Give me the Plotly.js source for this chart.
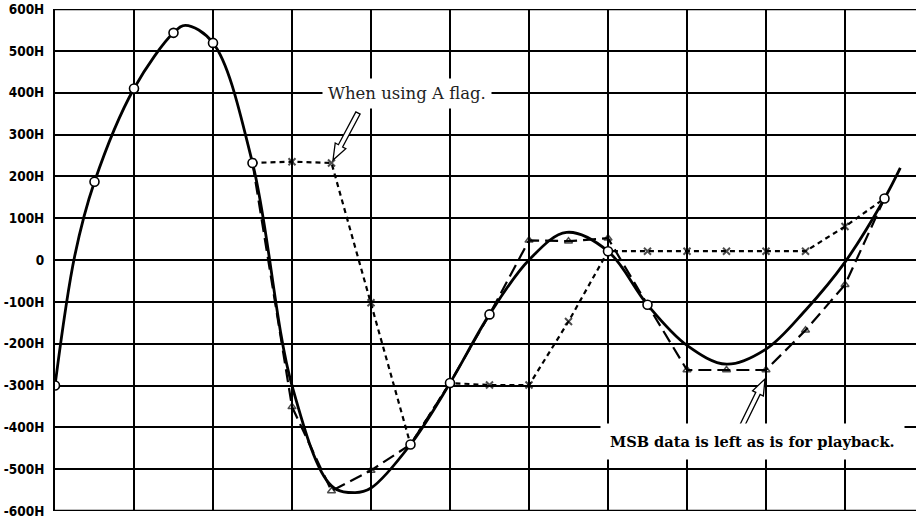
<!DOCTYPE html>
<html>
<head>
<meta charset="utf-8">
<script src="https://cdn.plot.ly/plotly-3.0.1.min.js"></script>
<style>html,body{margin:0;padding:0;background:#fff;}#chart{width:916px;height:519px;}</style>
</head>
<body>
<div id="chart"></div>
<script>
// ---- data (x = sample index, each vertical grid = 2 samples) ----
const curveX = [0, 0.5, 1, 2, 3, 3.3, 4, 5, 6, 7, 7.6, 8, 9, 10, 11, 12, 12.95, 14, 15, 16, 17, 18, 19, 20, 21, 21.4];
const curveY = [-300, 10, 187, 410, 543, 561, 519, 232, -300, -540, -556, -545, -441, -294, -130, 0, 66, 21, -107, -204, -249, -213, -120, -5, 147, 220];

const sampleX = [0, 1, 2, 3, 4, 5, 9, 10, 11, 14, 15, 21];
const sampleY = [-300, 187, 410, 543, 519, 232, -441, -294, -130, 21, -107, 147];

const plainX = [5, 6, 7, 8, 9, 10, 11, 12, 13, 14, 15, 16, 17, 18, 19, 20, 21];
const plainY = [232, -351, -552, -503, -441, -294, -130, 47, 45, 52, -107, -263, -263, -263, -168, -59, 147];
const plainMarked = [6, 7, 8, 12, 13, 14, 16, 17, 18, 19, 20];

const aflagX = [5, 6, 7, 8, 9, 10, 11, 12, 13, 14, 15, 16, 17, 18, 19, 20, 21];
const aflagY = [232, 235, 232, -102, -441, -294, -299, -299, -147, 21, 21, 21, 21, 21, 21, 80, 147];
const aflagMarked = [6, 7, 8, 11, 12, 13, 15, 16, 17, 18, 19, 20];

const yTickVals = [600, 500, 400, 300, 200, 100, 0, -100, -200, -300, -400, -500, -600];
const yTickText = ['600H', '500H', '400H', '300H', '200H', '100H', '0', '-100H', '-200H', '-300H', '-400H', '-500H', '-600H'];

const noteA = 'When using A flag.';
const noteMSB = 'MSB data is left as is for playback.';

// ---- layout geometry ----
const W = 916, H = 519;
const M = {l: 55, r: 0, t: 9, b: 8};
const xMax = (W - M.l - M.r) / 39.5;
const pw = W - M.l - M.r, ph = H - M.t - M.b;
const toPx = (n, v) => [M.l + n / xMax * pw, M.t + (600 - v) / 1200 * ph];
const toData = (px, py) => [(px - M.l) / pw * xMax, 600 - (py - M.t) / ph * 1200];

function hollowArrow(tail, tip) {
  const S = toPx(tail[0], tail[1]), T = toPx(tip[0], tip[1]);
  const dx = T[0] - S[0], dy = T[1] - S[1], L = Math.hypot(dx, dy);
  const d = [dx / L, dy / L], p = [-d[1], d[0]];
  const w = 2.4, hw = 6, hl = 16;
  const Hh = [T[0] - d[0] * hl, T[1] - d[1] * hl];
  const pts = [
    [S[0] + p[0] * w, S[1] + p[1] * w],
    [Hh[0] + p[0] * w, Hh[1] + p[1] * w],
    [Hh[0] + p[0] * hw, Hh[1] + p[1] * hw],
    T,
    [Hh[0] - p[0] * hw, Hh[1] - p[1] * hw],
    [Hh[0] - p[0] * w, Hh[1] - p[1] * w],
    [S[0] - p[0] * w, S[1] - p[1] * w]
  ].map(q => toData(q[0], q[1]));
  return {
    type: 'path', xref: 'x', yref: 'y', layer: 'above',
    path: 'M' + pts.map(q => q[0].toFixed(4) + ',' + q[1].toFixed(2)).join(' L') + ' Z',
    fillcolor: '#fff', line: {color: '#000', width: 1.3}
  };
}

const sizesFor = (xs, marked, s) => xs.map(x => marked.includes(x) ? s : 0);

const traces = [
  {x: aflagX, y: aflagY, mode: 'lines+markers', type: 'scatter',
   line: {color: '#000', width: 2.2, dash: '5px,4px'},
   marker: {symbol: 'x-thin-open', size: sizesFor(aflagX, aflagMarked, 7), color: '#000', line: {color: '#000', width: 2}},
   hoverinfo: 'skip'},
  {x: plainX, y: plainY, mode: 'lines+markers', type: 'scatter',
   line: {color: '#000', width: 2.2, dash: '13px,6px'},
   marker: {symbol: 'triangle-up-open', size: sizesFor(plainX, plainMarked, 7), color: '#000', line: {color: '#000', width: 1.5}},
   hoverinfo: 'skip'},
  {x: curveX, y: curveY, mode: 'lines', type: 'scatter',
   line: {color: '#000', width: 2.8, shape: 'spline', smoothing: 1},
   hoverinfo: 'skip'},
  {x: sampleX, y: sampleY, mode: 'markers', type: 'scatter',
   marker: {symbol: 'circle', size: 9, color: '#fff', line: {color: '#000', width: 1.6}},
   hoverinfo: 'skip'}
];

const layout = {
  width: W, height: H,
  margin: M,
  paper_bgcolor: '#fff', plot_bgcolor: '#fff',
  showlegend: false,
  xaxis: {range: [0, xMax], dtick: 2, tick0: 0, showgrid: true, gridcolor: '#000', gridwidth: 1.5,
          showticklabels: false, zeroline: false, showline: false, ticks: ''},
  yaxis: {range: [-600, 600], tickvals: yTickVals, ticktext: yTickText, showgrid: true,
          gridcolor: '#000', gridwidth: 2, zeroline: false, showline: true, linecolor: '#000', linewidth: 2,
          ticks: '', ticklabelstandoff: 6, ticklabeloverflow: 'allow',
          tickfont: {family: 'Liberation Sans Narrow, DejaVu Sans Condensed, Arial Narrow, sans-serif', size: 13.5, color: '#000', weight: 'bold'}},
  font: {family: 'DejaVu Serif, Liberation Serif, serif', color: '#000'},
  annotations: [
    {x: toData(407, 93)[0], y: toData(407, 93)[1], xref: 'x', yref: 'y', text: noteA, showarrow: false,
     font: {family: 'DejaVu Serif, Liberation Serif, serif', size: 16.5, color: '#222'},
     bgcolor: '#fff', borderpad: 5},
    {x: toData(600, 441)[0], y: toData(600, 441)[1], xref: 'x', yref: 'y', text: noteMSB, showarrow: false,
     xanchor: 'left',
     font: {family: 'DejaVu Serif, Liberation Serif, serif', size: 14.6, color: '#000', weight: 'bold'},
     bgcolor: '#fff', borderpad: 9}
  ],
  shapes: [
    {type: 'line', xref: 'paper', yref: 'y', x0: 0, x1: 1, y0: 600, y1: 600, line: {color: '#000', width: 2.5}, layer: 'below'},
    {type: 'line', xref: 'paper', yref: 'y', x0: 0, x1: 1, y0: -600, y1: -600, line: {color: '#000', width: 2.5}, layer: 'below'},
    hollowArrow(toData(358, 113), toData(333, 160)),
    hollowArrow(toData(741, 428), toData(765, 379))
  ]
};

Plotly.newPlot('chart', traces, layout, {displayModeBar: false, staticPlot: true});
</script>
</body>
</html>
